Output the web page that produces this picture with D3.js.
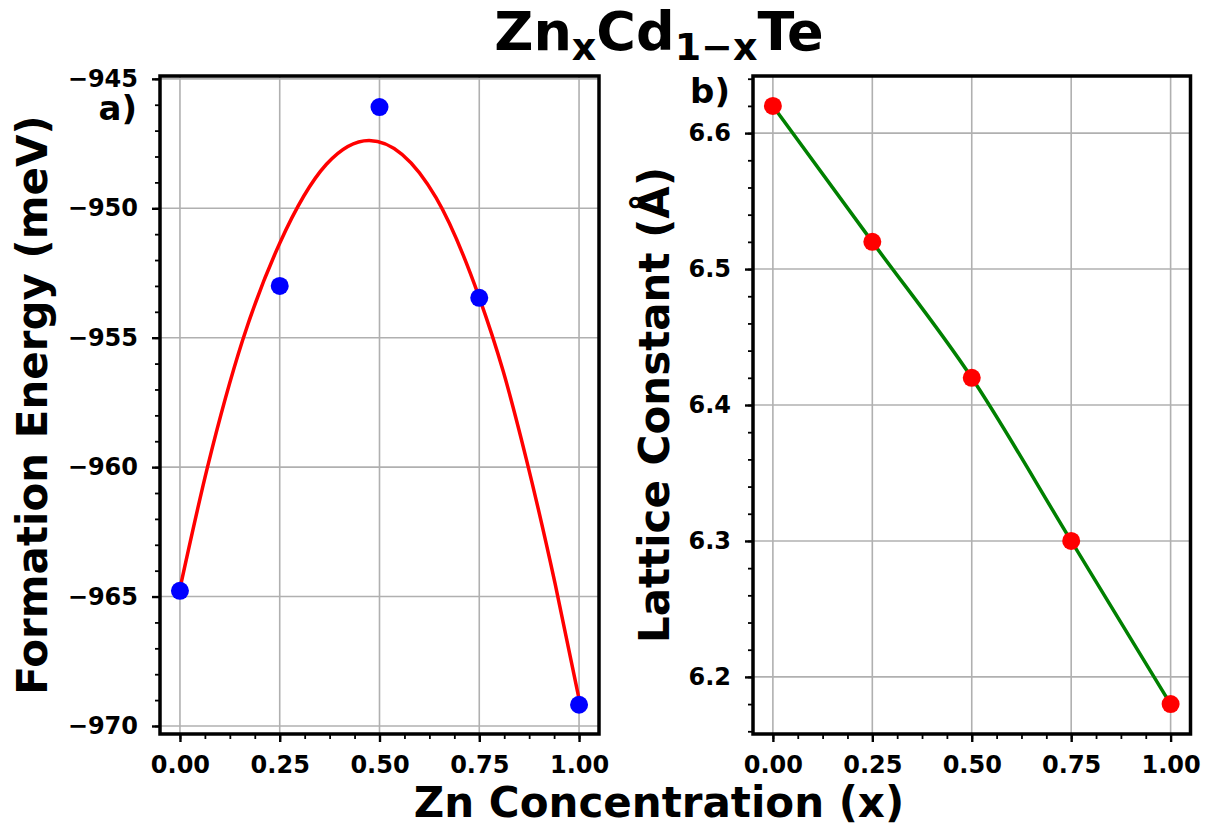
<!DOCTYPE html>
<html>
<head>
<meta charset="utf-8">
<script src="https://cdn.jsdelivr.net/npm/d3@7"></script>
<style>
body { margin: 0; background: #fff; }
text { font-family: "DejaVu Sans"; font-weight: bold; fill: #000; }
</style>
</head>
<body>
<svg id="chart" width="1209" height="829"></svg>
<script>
// data
var conc = [0, 0.25, 0.5, 0.75, 1.0];
var formationEnergy = [-964.78, -953.0, -946.09, -953.46, -969.18];
var latticeConst = [6.62, 6.52, 6.42, 6.30, 6.18];

// fitted red curve
var fitConc = [0, 0.069, 0.157, 0.25, 0.367, 0.474, 0.642, 0.75, 0.81, 0.868, 0.94, 1.0];
var fitEnergy = [-964.69, -960.0, -955.1, -951.35, -948.3, -947.38, -949.6, -953.45, -956.3, -959.7, -964.5, -968.95];

var xTicks = [0, 0.25, 0.5, 0.75, 1.0];
var energyTicks = [-970, -965, -960, -955, -950, -945];
var latticeTicks = [6.2, 6.3, 6.4, 6.5, 6.6];

var svg = d3.select("#chart");
var top_ = 76, bottom = 734;

function styleLabels(s, major) {
	s.select(".domain").remove();
	s.selectAll("line").attr("stroke-width", major ? 2.4 : 1.8);
	s.selectAll("text").style("font-size", "24px").style("font-family", "DejaVu Sans")
		.style("font-weight", "bold").attr("fill", "#000");
}

function panel(o) {
	var g = svg.append("g");
	var x = d3.scaleLinear().domain([-0.05, 1.05]).range([o.left, o.right]);
	var y = d3.scaleLinear().domain(o.yDomain).range([bottom, top_]);

	// grid
	g.selectAll(".gx").data(xTicks).enter().append("line")
		.attr("x1", d => x(d)).attr("x2", d => x(d))
		.attr("y1", top_).attr("y2", bottom)
		.attr("stroke", "#b0b0b0").attr("stroke-width", 1.6);
	g.selectAll(".gy").data(o.yTicks).enter().append("line")
		.attr("y1", d => y(d)).attr("y2", d => y(d))
		.attr("x1", o.left).attr("x2", o.right)
		.attr("stroke", "#b0b0b0").attr("stroke-width", 1.6);

	// line
	var line = d3.line().x(d => x(d[0])).y(d => y(d[1])).curve(o.curve);
	g.append("path")
		.attr("d", line(d3.zip(o.lineX, o.lineY)))
		.attr("fill", "none").attr("stroke", o.lineColor).attr("stroke-width", 3.5);

	// points
	g.selectAll(".pt").data(d3.zip(conc, o.values)).enter().append("circle")
		.attr("cx", d => x(d[0])).attr("cy", d => y(d[1])).attr("r", 9)
		.attr("fill", o.dotColor);

	// minor ticks
	var xMinor = d3.range(0, 1.0001, 0.0625);
	g.append("g").attr("transform", "translate(0," + bottom + ")")
		.call(d3.axisBottom(x).tickValues(xMinor).tickFormat("").tickSize(5).tickSizeOuter(0))
		.call(s => styleLabels(s, false));
	g.append("g").attr("transform", "translate(" + o.left + ",0)")
		.call(d3.axisLeft(y).tickValues(o.yMinor).tickFormat("").tickSize(5).tickSizeOuter(0))
		.call(s => styleLabels(s, false));

	// major ticks
	g.append("g").attr("transform", "translate(0," + bottom + ")")
		.call(d3.axisBottom(x).tickValues(xTicks).tickFormat(d3.format(".2f")).tickSize(8).tickPadding(14).tickSizeOuter(0))
		.call(s => styleLabels(s, true));
	g.append("g").attr("transform", "translate(" + o.left + ",0)")
		.call(d3.axisLeft(y).tickValues(o.yTicks).tickFormat(d3.format(o.yFormat)).tickSize(8).tickPadding(14).tickSizeOuter(0))
		.call(s => styleLabels(s, true));

	// spines
	g.append("rect")
		.attr("x", o.left).attr("y", top_)
		.attr("width", o.right - o.left).attr("height", bottom - top_)
		.attr("fill", "none").attr("stroke", "#000").attr("stroke-width", 3.5);

	// y label
	g.append("text")
		.attr("transform", "translate(" + o.labelX + "," + ((top_ + bottom) / 2) + ") rotate(-90)")
		.attr("text-anchor", "middle").style("font-size", "42px")
		.text(o.yLabel);

	// panel letter
	g.append("text")
		.attr("x", o.left - 23).attr("y", o.letterY)
		.attr("text-anchor", "end").style("font-size", "34px")
		.text(o.letter);
}

panel({
	left: 160, right: 599,
	yDomain: [-970.31, -944.89],
	yTicks: energyTicks, yMinor: d3.range(-970, -944.5, 1), yFormat: "d",
	lineX: fitConc, lineY: fitEnergy, lineColor: "#ff0000", curve: d3.curveMonotoneX,
	values: formationEnergy, dotColor: "#0000ff",
	yLabel: "Formation Energy (meV)", labelX: 47,
	letter: "a)", letterY: 120
});

panel({
	left: 753, right: 1190.5,
	yDomain: [6.158, 6.642],
	yTicks: latticeTicks, yMinor: d3.range(6.16, 6.645, 0.02), yFormat: ".1f",
	lineX: conc, lineY: latticeConst, lineColor: "#008000", curve: d3.curveMonotoneX,
	values: latticeConst, dotColor: "#ff0000",
	yLabel: "Lattice Constant (Å)", labelX: 669,
	letter: "b)", letterY: 103
});

// x label
svg.append("text")
	.attr("x", 659).attr("y", 817)
	.attr("text-anchor", "middle").style("font-size", "42px")
	.text("Zn Concentration (x)");

// title
var title = svg.append("text")
	.attr("x", 659).attr("y", 50)
	.attr("text-anchor", "middle").style("font-size", "54px");
title.append("tspan").text("Zn");
title.append("tspan").attr("dy", 10).style("font-size", "38px").text("x");
title.append("tspan").attr("dy", -10).text("Cd");
title.append("tspan").attr("dy", 10).style("font-size", "38px").text("1−x");
title.append("tspan").attr("dy", -10).text("Te");
</script>
</body>
</html>
